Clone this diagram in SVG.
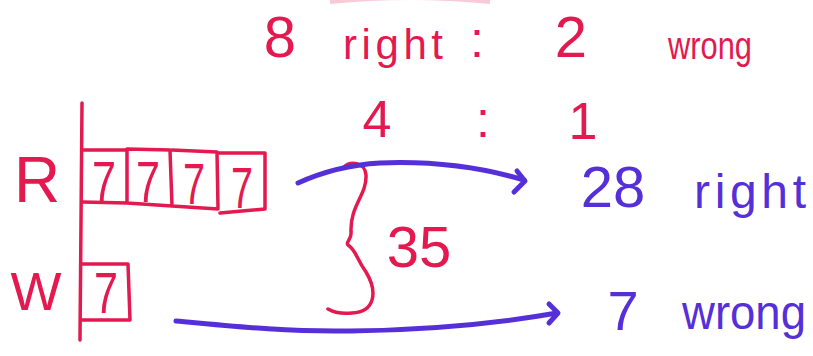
<svg xmlns="http://www.w3.org/2000/svg" width="813" height="356" viewBox="0 0 813 356">
<style>
  .red { fill: #e3194f; font-family: "Liberation Sans", "DejaVu Sans", sans-serif; }
  .blue { fill: #5530d8; font-family: "Liberation Sans", "DejaVu Sans", sans-serif; }
  .rs { fill: none; stroke: #e3194f; stroke-width: 3.5; stroke-linecap: round; stroke-linejoin: round; }
  .bs { fill: none; stroke: #5530d8; stroke-width: 5; stroke-linecap: round; stroke-linejoin: round; }
  .seven { font-size: 58px; }
</style>
<rect width="813" height="356" fill="#ffffff"/>
<path d="M330,2 Q410,-6 490,2" fill="none" stroke="#f08aa6" stroke-width="4" opacity="0.45"/>

<g id="ratio-top">
  <text class="red" x="280" y="57" font-size="58" text-anchor="middle">8</text>
  <text class="red" x="343" y="59" font-size="42" textLength="100" lengthAdjust="spacing">right</text>
  <text class="red" x="477" y="57" font-size="50" text-anchor="middle">:</text>
  <text class="red" x="571" y="57" font-size="58" text-anchor="middle">2</text>
  <text class="red" x="668" y="59" font-size="38" textLength="84" lengthAdjust="spacingAndGlyphs">wrong</text>
</g>
<g id="ratio-simplified">
  <text class="red" x="377" y="137" font-size="52" text-anchor="middle">4</text>
  <text class="red" x="483" y="137" font-size="50" text-anchor="middle">:</text>
  <text class="red" x="583" y="139" font-size="52" text-anchor="middle">1</text>
</g>

<g id="axis">
  <path class="rs" d="M82,103 L80,340"/>
  <text class="red" x="37" y="202" font-size="64" text-anchor="middle">R</text>
  <text class="red" x="36" y="310" font-size="54" text-anchor="middle">W</text>
</g>

<g id="right-boxes">
  <path class="rs" d="M82,150 L127,150 L127,203 M127,149 L170,150 L172,206 M172,150 L217,152 L218,208 M218,153 L265,153 L265,209 L220,213 M82,202 L127,203 L172,206 L218,209"/>
  <text class="red seven" x="104" y="202" text-anchor="middle" textLength="24" lengthAdjust="spacingAndGlyphs">7</text>
  <text class="red seven" x="148" y="202" text-anchor="middle" textLength="24" lengthAdjust="spacingAndGlyphs">7</text>
  <text class="red seven" x="194" y="204" text-anchor="middle" textLength="22" lengthAdjust="spacingAndGlyphs">7</text>
  <text class="red seven" x="242" y="208" text-anchor="middle" textLength="22" lengthAdjust="spacingAndGlyphs">7</text>
</g>

<g id="wrong-box">
  <path class="rs" d="M82,264 L128,264 L130,320 L82,320"/>
  <text class="red seven" x="106" y="313" text-anchor="middle" textLength="24" lengthAdjust="spacingAndGlyphs">7</text>
</g>

<g id="total-brace">
  <path class="rs" d="M343,168 C350,160 365,162 366,175 C367,195 350,205 351,232 C352,240 345,242 348,245 C356,250 356,258 366,272 C378,292 375,312 352,313 C342,314 333,312 328,309"/>
  <text class="red" x="419" y="267" font-size="58" text-anchor="middle">35</text>
</g>

<g id="result-right">
  <text class="blue" x="613" y="207" font-size="58" text-anchor="middle">28</text>
  <text class="blue" x="694" y="208" font-size="48" textLength="112" lengthAdjust="spacing">right</text>
</g>
<g id="result-wrong">
  <text class="blue" x="682" y="329" font-size="48" textLength="124" lengthAdjust="spacingAndGlyphs">wrong</text>
  <text class="blue" x="623" y="330" font-size="56" text-anchor="middle">7</text>
</g>

<g id="connectors">
  <path class="bs" d="M298,183 C320,173 345,165 380,163 C430,161 480,167 524,180"/>
  <path class="bs" d="M517,171 L525,181 L514,192"/>
  <path class="bs" d="M176,321 C240,327 290,332 350,331 C430,330 500,323 557,313"/>
  <path class="bs" d="M549,304 L558,313 L549,323"/>
</g>
</svg>
